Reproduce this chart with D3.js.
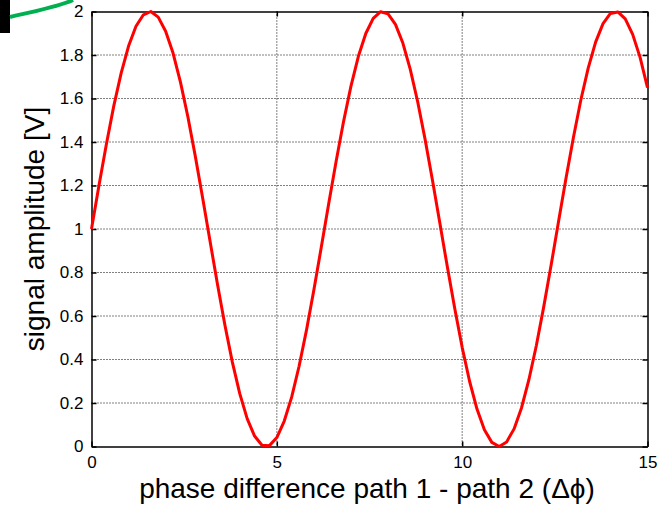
<!DOCTYPE html>
<html>
<head>
<meta charset="utf-8">
<script src="https://cdn.jsdelivr.net/npm/d3@7/dist/d3.min.js"></script>
<style>
  html, body { margin: 0; padding: 0; background: #fff; }
  svg { display: block; }
  text { font-family: "Liberation Sans", Arial, sans-serif; fill: #000; }
</style>
</head>
<body>
<svg id="chart" width="666" height="507"></svg>
<script>
// Phase difference samples (rad) and resulting signal amplitude (V)
const phase = [
  0, 0.2, 0.4, 0.6, 0.8, 1.0, 1.2, 1.4, 1.6, 1.8,
  2.0, 2.2, 2.4, 2.6, 2.8, 3.0, 3.2, 3.4, 3.6, 3.8,
  4.0, 4.2, 4.4, 4.6, 4.8, 5.0, 5.2, 5.4, 5.6, 5.8,
  6.0, 6.2, 6.4, 6.6, 6.8, 7.0, 7.2, 7.4, 7.6, 7.8,
  8.0, 8.2, 8.4, 8.6, 8.8, 9.0, 9.2, 9.4, 9.6, 9.8,
  10.0, 10.2, 10.4, 10.6, 10.8, 11.0, 11.2, 11.4, 11.6, 11.8,
  12.0, 12.2, 12.4, 12.6, 12.8, 13.0, 13.2, 13.4, 13.6, 13.8,
  14.0, 14.2, 14.4, 14.6, 14.8, 15.0
];
const amplitude = [
  1.000, 1.199, 1.389, 1.565, 1.717, 1.841, 1.932, 1.985, 2.000, 1.974,
  1.909, 1.809, 1.675, 1.516, 1.335, 1.141, 0.942, 0.745, 0.557, 0.388,
  0.243, 0.128, 0.048, 0.006, 0.004, 0.041, 0.117, 0.227, 0.369, 0.535,
  0.721, 0.917, 1.117, 1.312, 1.494, 1.657, 1.794, 1.899, 1.968, 1.999,
  1.989, 1.941, 1.855, 1.734, 1.585, 1.412, 1.223, 1.025, 0.826, 0.634,
  0.456, 0.300, 0.172, 0.077, 0.019, 0.000, 0.021, 0.081, 0.177, 0.307,
  0.463, 0.642, 0.834, 1.034, 1.232, 1.420, 1.592, 1.740, 1.859, 1.944,
  1.991, 1.998, 1.966, 1.895, 1.789, 1.650
];
const xTicks = [0, 5, 10, 15];
const yTicks = [0, 0.2, 0.4, 0.6, 0.8, 1, 1.2, 1.4, 1.6, 1.8, 2];
const xLabel = "phase difference path 1 - path 2 (\u0394\u03d5)";
const yLabel = "signal amplitude [V]";

const svg = d3.select("#chart");
const L = 91.5, R = 647.5, T = 11.5, B = 446.5;

const x = d3.scaleLinear().domain([0, 15]).range([L, R]);
const y = d3.scaleLinear().domain([0, 2]).range([B, T]);

// Dotted grid
const grid = svg.append("g");
grid.selectAll("line.gx").data(xTicks.slice(1, -1)).join("line")
  .attr("x1", d => x(d)).attr("x2", d => x(d))
  .attr("y1", T).attr("y2", B)
  .attr("stroke", "#000").attr("stroke-width", 1).attr("stroke-dasharray", "1,2");
grid.selectAll("line.gy").data(yTicks.slice(1, -1)).join("line")
  .attr("x1", L).attr("x2", R)
  .attr("y1", d => y(d)).attr("y2", d => y(d))
  .attr("stroke", "#000").attr("stroke-width", 1).attr("stroke-dasharray", "1,2");

// Axes with inward ticks
const fmt = d3.format("~g");
const axStyle = g => {
  g.select(".domain").attr("stroke", "#000").attr("stroke-width", 1.5);
  g.selectAll(".tick line").attr("stroke", "#000").attr("stroke-width", 1.5);
  g.selectAll("text").style("font-family", "'Liberation Sans', Arial, sans-serif")
    .style("font-size", "17px").attr("fill", "#000");
};
svg.append("g").attr("transform", `translate(0,${B})`)
  .call(d3.axisBottom(x).tickValues(xTicks).tickFormat(fmt).tickSizeInner(-5).tickSizeOuter(0).tickPadding(9))
  .call(axStyle);
svg.append("g").attr("transform", `translate(0,${T})`)
  .call(d3.axisTop(x).tickValues(xTicks).tickFormat("").tickSizeInner(-5).tickSizeOuter(0))
  .call(axStyle);
svg.append("g").attr("transform", `translate(${L},0)`)
  .call(d3.axisLeft(y).tickValues(yTicks).tickFormat(fmt).tickSizeInner(-5).tickSizeOuter(0).tickPadding(8))
  .call(axStyle);
svg.append("g").attr("transform", `translate(${R},0)`)
  .call(d3.axisRight(y).tickValues(yTicks).tickFormat("").tickSizeInner(-5).tickSizeOuter(0))
  .call(axStyle);

// Signal curve
const line = d3.line().x((d, i) => x(phase[i])).y(d => y(d));
svg.append("path").datum(amplitude)
  .attr("d", line)
  .attr("fill", "none").attr("stroke", "#ff0000")
  .attr("stroke-width", 3).attr("stroke-linejoin", "round");

// Axis titles
svg.append("text")
  .attr("x", 367).attr("y", 498)
  .attr("text-anchor", "middle")
  .style("font-size", "28px")
  .text(xLabel);

svg.append("text")
  .attr("transform", "translate(44,229) rotate(-90)")
  .attr("text-anchor", "middle")
  .style("font-size", "28px")
  .text(yLabel);

// Connector decoration at top-left
svg.append("rect").attr("x", 0).attr("y", 0).attr("width", 10).attr("height", 33).attr("fill", "#000");
svg.append("path")
  .attr("d", "M10,17 C35,11 58,7 73,0")
  .attr("fill", "none").attr("stroke", "#00b050").attr("stroke-width", 4);
</script>
</body>
</html>
